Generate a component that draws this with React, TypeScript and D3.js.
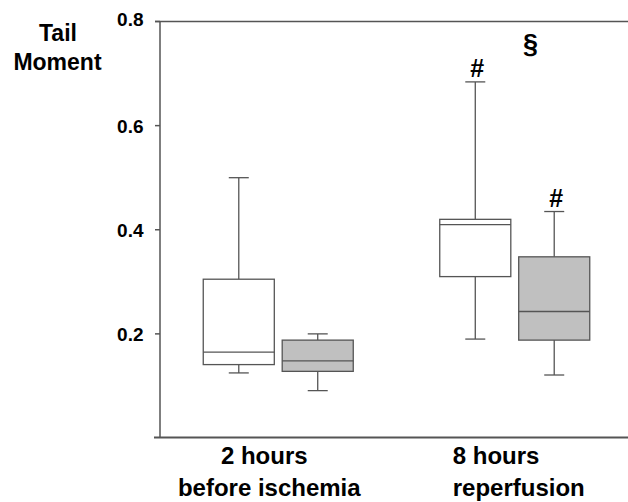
import React from "react";
import * as d3 from "d3";

// ---- data ----
const groups = ["2h", "8h"];
const series = ["control", "treated"];
// [min, q1, median, q3, max] per group for each series
const controlStats = [
  [0.125, 0.141, 0.165, 0.305, 0.5],
  [0.19, 0.31, 0.41, 0.42, 0.684],
];
const treatedStats = [
  [0.091, 0.128, 0.148, 0.188, 0.2],
  [0.121, 0.188, 0.243, 0.348, 0.435],
];
const yTicks = [0.2, 0.4, 0.6, 0.8];
const yTickLabels = ["0.2", "0.4", "0.6", "0.8"];
const groupLabelLine1 = ["2 hours", "8 hours"];
const groupLabelLine2 = ["before ischemia", "reperfusion"];
const seriesFill = ["#ffffff", "#c0c0c0"];
const markers = [
  { group: 1, series: 0, text: "#" },
  { group: 1, series: 1, text: "#" },
];
const yTitle = ["Tail", "Moment"];

const W = 628;
const H = 502;

export default function App() {
  const y = d3.scaleLinear().domain([0, 0.8]).range([438, 21.5]);
  const xg = d3.scaleBand<string>().domain(groups).range([160, 633]).padding(0);
  const xs = d3.scaleBand<string>().domain(series).range([-75, 75]).paddingInner(0.1).paddingOuter(0);
  const bw = xs.bandwidth();
  const stroke = "#555";
  const font = "'Liberation Sans', Arial, Helvetica, sans-serif";
  const allStats = [controlStats, treatedStats];

  return (
    <svg width={W} height={H} style={{ position: "absolute", left: 0, top: 0 }} fontFamily={font}>
      <rect width={W} height={H} fill="#fff" />
      {/* axes */}
      <line x1={160} x2={160} y1={y(0.8)} y2={y(0) - 0.5} stroke={stroke} strokeWidth={1.5} />
      <line x1={154} x2={W} y1={y(0) - 0.5} y2={y(0) - 0.5} stroke={stroke} strokeWidth={2} />
      <line x1={155} x2={W} y1={y(0.8)} y2={y(0.8)} stroke={stroke} strokeWidth={1.5} />
      {yTicks.map((t, i) => (
        <g key={t}>
          <line x1={155} x2={160} y1={y(t)} y2={y(t)} stroke={stroke} strokeWidth={1.5} />
          <text x={143.5} y={y(t) + 7 - (i === 3 ? 3 : 0)} textAnchor="end" fontWeight="bold" fontSize={19} fill="#000">
            {yTickLabels[i]}
          </text>
        </g>
      ))}
      {/* y title */}
      <text x={58} y={40.5} textAnchor="middle" fontWeight="bold" fontSize={23} fill="#000">{yTitle[0]}</text>
      <text x={57.5} y={69.5} textAnchor="middle" fontWeight="bold" fontSize={23} fill="#000">{yTitle[1]}</text>
      {/* boxes */}
      {groups.map((g, gi) =>
        series.map((s, si) => {
          const [mn, q1, md, q3, mx] = allStats[si][gi];
          const x0 = (xg(g) as number) + xg.bandwidth() / 2 + (xs(s) as number);
          const cx = x0 + bw / 2;
          return (
            <g key={g + s}>
              <line x1={cx} x2={cx} y1={y(mx)} y2={y(q3)} stroke={stroke} strokeWidth={1.3} />
              <line x1={cx} x2={cx} y1={y(q1)} y2={y(mn)} stroke={stroke} strokeWidth={1.3} />
              <line x1={cx - 10} x2={cx + 10} y1={y(mx)} y2={y(mx)} stroke={stroke} strokeWidth={1.3} />
              <line x1={cx - 10} x2={cx + 10} y1={y(mn)} y2={y(mn)} stroke={stroke} strokeWidth={1.3} />
              <rect x={x0} y={y(q3)} width={bw} height={y(q1) - y(q3)} fill={seriesFill[si]} stroke={stroke} strokeWidth={1.3} />
              <line x1={x0} x2={x0 + bw} y1={y(md)} y2={y(md)} stroke={stroke} strokeWidth={1.3} />
            </g>
          );
        })
      )}
      {/* significance markers */}
      {markers.map((m, i) => {
        const g = groups[m.group];
        const s = series[m.series];
        const [, , , , mx] = allStats[m.series][m.group];
        const cx = (xg(g) as number) + xg.bandwidth() / 2 + (xs(s) as number) + bw / 2 + 2;
        return (
          <text key={i} x={cx} y={y(mx) - 4.5} textAnchor="middle" fontWeight="bold" fontSize={25} fill="#000">
            {m.text}
          </text>
        );
      })}
      <text x={530.5} y={53} textAnchor="middle" fontWeight="bold" fontSize={27} fill="#000">§</text>
      {/* x labels */}
      <text x={(xg(groups[0]) as number) + xg.bandwidth() / 2 - 14} y={464} textAnchor="middle" fontWeight="bold" fontSize={24} fill="#000">{groupLabelLine1[0]}</text>
      <text x={(xg(groups[0]) as number) + xg.bandwidth() / 2 - 9} y={496} textAnchor="middle" fontWeight="bold" fontSize={24} fill="#000">{groupLabelLine2[0]}</text>
      <text x={(xg(groups[1]) as number) + xg.bandwidth() / 2 - 62} y={464} textAnchor="start" fontWeight="bold" fontSize={24} fill="#000">{groupLabelLine1[1]}</text>
      <text x={(xg(groups[1]) as number) + xg.bandwidth() / 2 - 62} y={496} textAnchor="start" fontWeight="bold" fontSize={24} fill="#000">{groupLabelLine2[1]}</text>
    </svg>
  );
}
